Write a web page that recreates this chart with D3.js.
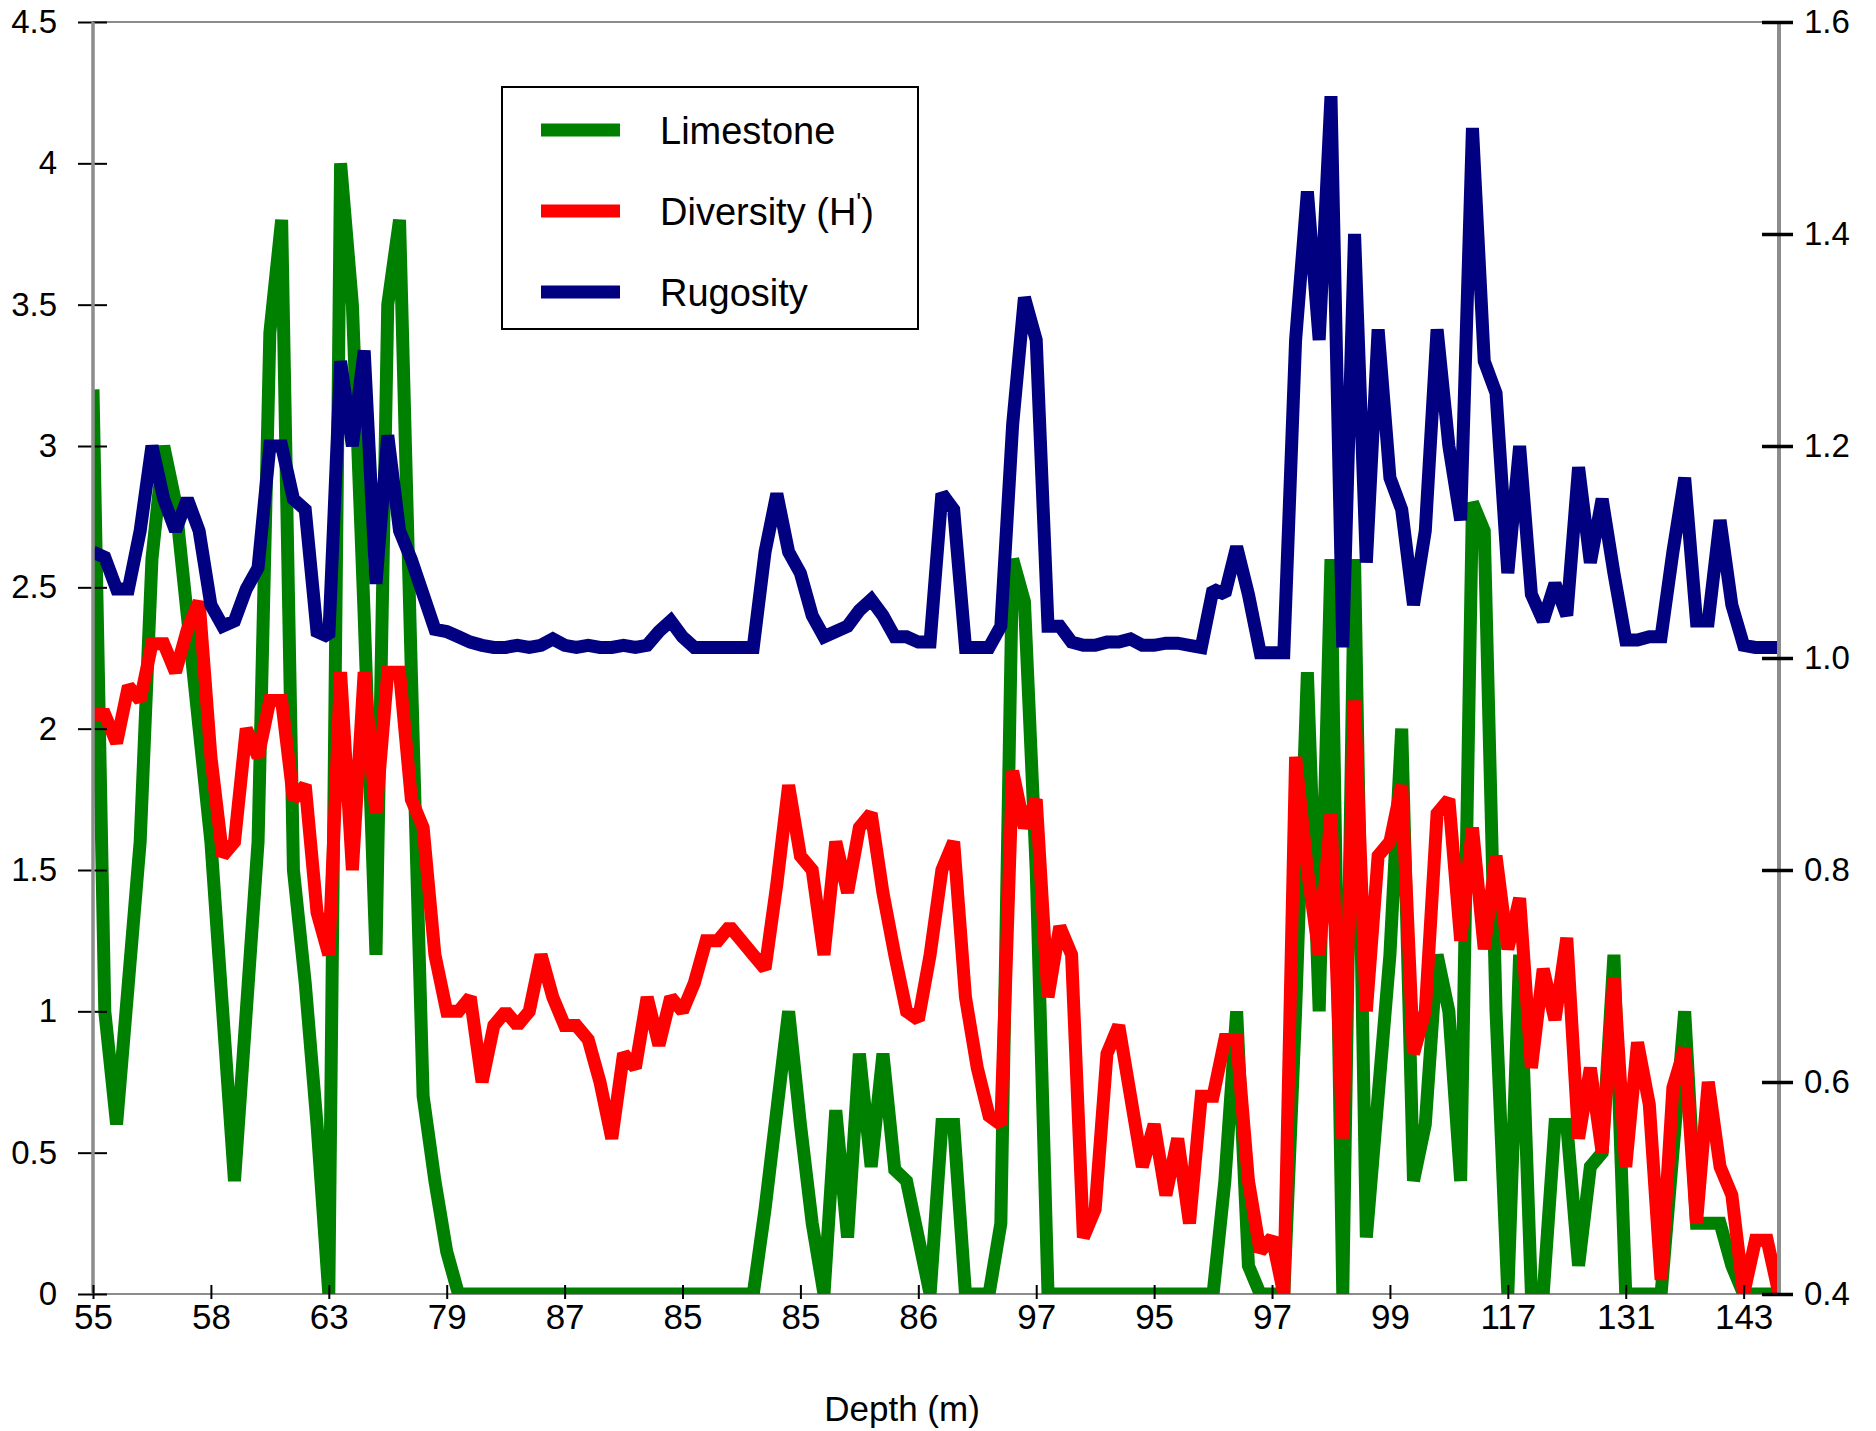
<!DOCTYPE html>
<html>
<head>
<meta charset="utf-8">
<script src="https://cdn.jsdelivr.net/npm/d3@7"></script>
<style>
  html, body { margin: 0; padding: 0; background: #fff; }
  svg { display: block; font-family: "Liberation Sans", Arial, sans-serif; }
</style>
</head>
<body>
<div id="chart"></div>
<script>
// values, one entry per sample (index along the transect)
const limestone = [
  3.2, 1.0, 0.6, 1.1, 1.6, 2.6, 3.0, 2.8, 2.4, 2.0,
  1.6, 1.0, 0.4, 1.0, 1.6, 3.4, 3.8, 1.5, 1.1, 0.6,
  0, 4.0, 3.5, 2.4, 1.2, 3.5, 3.8, 2.2, 0.7, 0.4,
  0.15, 0, 0, 0, 0, 0, 0, 0, 0, 0,
  0, 0, 0, 0, 0, 0, 0, 0, 0, 0,
  0, 0, 0, 0, 0, 0, 0, 0.3, 0.65, 1.0,
  0.6, 0.25, 0, 0.65, 0.2, 0.85, 0.45, 0.85, 0.44, 0.4,
  0.2, 0, 0.6, 0.6, 0, 0, 0, 0.25, 2.6, 2.45,
  1.5, 0, 0, 0, 0, 0, 0, 0, 0, 0,
  0, 0, 0, 0, 0, 0, 0.4, 1.0, 0.1, 0,
  0, 0, 1.0, 2.2, 1.0, 2.6, 0, 2.6, 0.2, 0.7,
  1.2, 2.0, 0.4, 0.6, 1.2, 1.0, 0.4, 2.8, 2.7, 1.0,
  0, 1.2, 0, 0, 0.6, 0.6, 0.1, 0.45, 0.5, 1.2,
  0, 0, 0, 0, 0.5, 1.0, 0.25, 0.25, 0.25, 0.1,
  0, 0, 0, 0
];

const diversity = [
  2.05, 2.05, 1.95, 2.15, 2.1, 2.3, 2.3, 2.2, 2.35, 2.45,
  1.9, 1.55, 1.6, 2.0, 1.9, 2.1, 2.1, 1.75, 1.8, 1.35,
  1.2, 2.2, 1.5, 2.2, 1.7, 2.2, 2.2, 1.75, 1.65, 1.2,
  1.0, 1.0, 1.05, 0.75, 0.95, 1.0, 0.95, 1.0, 1.2, 1.05,
  0.95, 0.95, 0.9, 0.75, 0.55, 0.85, 0.8, 1.05, 0.88, 1.05,
  1.0, 1.1, 1.25, 1.25, 1.3, 1.25, 1.2, 1.15, 1.45, 1.8,
  1.55, 1.5, 1.2, 1.6, 1.42, 1.65, 1.7, 1.42, 1.2, 1.0,
  0.97, 1.2, 1.5, 1.6, 1.05, 0.8, 0.63, 0.6, 1.85, 1.65,
  1.75, 1.05, 1.3, 1.2, 0.2, 0.3, 0.85, 0.95, 0.7, 0.45,
  0.6, 0.35, 0.55, 0.25, 0.7, 0.7, 0.9, 0.9, 0.4, 0.15,
  0.2, 0, 1.9, 1.5, 1.2, 1.7, 0.55, 2.1, 1.0, 1.55,
  1.6, 1.8, 0.85, 1.0, 1.7, 1.75, 1.25, 1.65, 1.22, 1.55,
  1.22, 1.4, 0.8, 1.15, 0.97, 1.26, 0.55, 0.8, 0.5, 1.12,
  0.45, 0.89, 0.67, 0.05, 0.73, 0.87, 0.25, 0.75, 0.45, 0.35,
  0, 0.19, 0.19, 0
];

const rugosity = [
  1.10, 1.095, 1.065, 1.065, 1.12, 1.20, 1.15, 1.12, 1.15, 1.12,
  1.05, 1.03, 1.035, 1.065, 1.085, 1.2, 1.2, 1.15, 1.14, 1.025,
  1.02, 1.28, 1.20, 1.29, 1.07, 1.21, 1.12, 1.093, 1.06, 1.027,
  1.025, 1.02, 1.015, 1.012, 1.01, 1.01, 1.012, 1.01, 1.012, 1.018,
  1.012, 1.01, 1.012, 1.01, 1.01, 1.012, 1.01, 1.012, 1.025, 1.035,
  1.02, 1.01, 1.01, 1.01, 1.01, 1.01, 1.01, 1.10, 1.155, 1.10,
  1.08, 1.04, 1.02, 1.025, 1.03, 1.045, 1.055, 1.04, 1.02, 1.02,
  1.015, 1.015, 1.155, 1.14, 1.01, 1.01, 1.01, 1.03, 1.22, 1.34,
  1.3, 1.03, 1.03, 1.015, 1.012, 1.012, 1.015, 1.015, 1.018, 1.012,
  1.012, 1.014, 1.014, 1.012, 1.01, 1.065, 1.06, 1.105, 1.06, 1.005,
  1.005, 1.005, 1.3, 1.44, 1.30, 1.53, 1.01, 1.40, 1.09, 1.31,
  1.17, 1.14, 1.05, 1.12, 1.31, 1.2, 1.13, 1.50, 1.28, 1.25,
  1.08, 1.2, 1.06, 1.035, 1.07, 1.04, 1.18, 1.09, 1.15, 1.08,
  1.017, 1.017, 1.02, 1.02, 1.10, 1.17, 1.035, 1.035, 1.13, 1.05,
  1.012, 1.01, 1.01, 1.01
];

// every 10th sample gets a depth label
const depthTickIndex = [0, 10, 20, 30, 40, 50, 60, 70, 80, 90, 100, 110, 120, 130, 140];
const depthLabels = ['55', '58', '63', '79', '87', '85', '85', '86', '97', '95', '97', '99', '117', '131', '143'];
const leftTicks = [0, 0.5, 1, 1.5, 2, 2.5, 3, 3.5, 4, 4.5];
const rightTicks = [0.4, 0.6, 0.8, 1.0, 1.2, 1.4, 1.6];

const W = 1876, H = 1431;
const plotLeft = 93, plotRight = 1779, plotTop = 22, plotBottom = 1294;
const GREY = '#8c8c8c';
const LINE_W = 13;

const svg = d3.select('#chart').append('svg')
  .attr('width', W)
  .attr('height', H);

const x = d3.scaleLinear().domain([0, limestone.length - 1]).range([plotLeft, plotRight]);
const yLeft = d3.scaleLinear().domain([0, 4.5]).range([plotBottom, plotTop]);
const yRight = d3.scaleLinear().domain([0.4, 1.6]).range([plotBottom, plotTop]);

svg.append('clipPath').attr('id', 'plot-clip')
  .append('rect')
  .attr('x', plotLeft).attr('y', plotTop)
  .attr('width', plotRight - plotLeft).attr('height', plotBottom - plotTop);

// frame
svg.append('line').attr('x1', plotLeft).attr('x2', plotRight).attr('y1', plotTop).attr('y2', plotTop)
  .attr('stroke', GREY).attr('stroke-width', 2);
svg.append('line').attr('x1', plotLeft).attr('x2', plotRight).attr('y1', plotBottom).attr('y2', plotBottom)
  .attr('stroke', GREY).attr('stroke-width', 2);

// series
const plot = svg.append('g').attr('clip-path', 'url(#plot-clip)');

function drawSeries(values, yScale, color) {
  const line = d3.line()
    .x((d, i) => x(i))
    .y(d => yScale(d));
  plot.append('path')
    .datum(values)
    .attr('d', line)
    .attr('fill', 'none')
    .attr('stroke', color)
    .attr('stroke-width', LINE_W)
    .attr('stroke-linejoin', 'miter')
    .attr('stroke-miterlimit', 1.5);
}

drawSeries(limestone, yLeft, '#008000');
drawSeries(diversity, yLeft, '#ff0000');
drawSeries(rugosity, yRight, '#000080');

// left axis
const gLeft = svg.append('g')
  .attr('transform', `translate(${plotLeft},0)`)
  .call(d3.axisLeft(yLeft).tickValues(leftTicks).tickFormat(d3.format('~g')).tickSize(0).tickPadding(36));
gLeft.select('.domain').remove();
gLeft.selectAll('.tick line').attr('x1', -15).attr('x2', 14).attr('stroke', '#000').attr('stroke-width', 2);
gLeft.selectAll('text').attr('font-size', 33).attr('fill', '#000');
svg.append('line').attr('x1', plotLeft).attr('x2', plotLeft).attr('y1', plotTop).attr('y2', plotBottom)
  .attr('stroke', GREY).attr('stroke-width', 3.5);

// right axis
const gRight = svg.append('g')
  .attr('transform', `translate(${plotRight},0)`)
  .call(d3.axisRight(yRight).tickValues(rightTicks).tickFormat(d3.format('.1f')).tickSize(0).tickPadding(25));
gRight.select('.domain').remove();
svg.append('line').attr('x1', plotRight).attr('x2', plotRight).attr('y1', plotTop).attr('y2', plotBottom)
  .attr('stroke', GREY).attr('stroke-width', 4);
gRight.selectAll('.tick line').attr('x1', -17).attr('x2', 14).attr('stroke', '#000').attr('stroke-width', 3.5);
gRight.selectAll('text').attr('font-size', 33).attr('fill', '#000');
gRight.raise();

// bottom axis
const gBottom = svg.append('g')
  .attr('transform', `translate(0,${plotBottom})`)
  .call(d3.axisBottom(x).tickValues(depthTickIndex)
    .tickFormat((d, i) => depthLabels[i]).tickSize(0).tickPadding(10));
gBottom.select('.domain').remove();
gBottom.selectAll('.tick line').attr('y1', -9).attr('y2', 5).attr('stroke', '#000').attr('stroke-width', 2);
gBottom.selectAll('text').attr('font-size', 35).attr('fill', '#000');

svg.append('text')
  .attr('x', 902).attr('y', 1421)
  .attr('text-anchor', 'middle')
  .attr('font-size', 35)
  .text('Depth (m)');

// legend
const legendItems = [
  { label: 'Limestone', color: '#008000' },
  { label: 'Diversity (H', sup: "'", tail: ')', color: '#ff0000' },
  { label: 'Rugosity', color: '#000080' }
];
const legend = svg.append('g');
legend.append('rect')
  .attr('x', 502).attr('y', 87).attr('width', 416).attr('height', 242)
  .attr('fill', '#fff').attr('stroke', '#000').attr('stroke-width', 2);

const legendY = d3.scalePoint().domain(legendItems.map(d => d.label)).range([130, 292]);

legendItems.forEach(item => {
  const cy = legendY(item.label);
  legend.append('line')
    .attr('x1', 541).attr('x2', 620).attr('y1', cy).attr('y2', cy)
    .attr('stroke', item.color).attr('stroke-width', LINE_W);
  const t = legend.append('text')
    .attr('x', 660).attr('y', cy + 14)
    .attr('font-size', 38)
    .text(item.label);
  if (item.sup) {
    t.append('tspan').attr('dy', -14).attr('font-size', 26).text(item.sup);
    t.append('tspan').attr('dy', 14).text(item.tail);
  }
});
</script>
</body>
</html>
